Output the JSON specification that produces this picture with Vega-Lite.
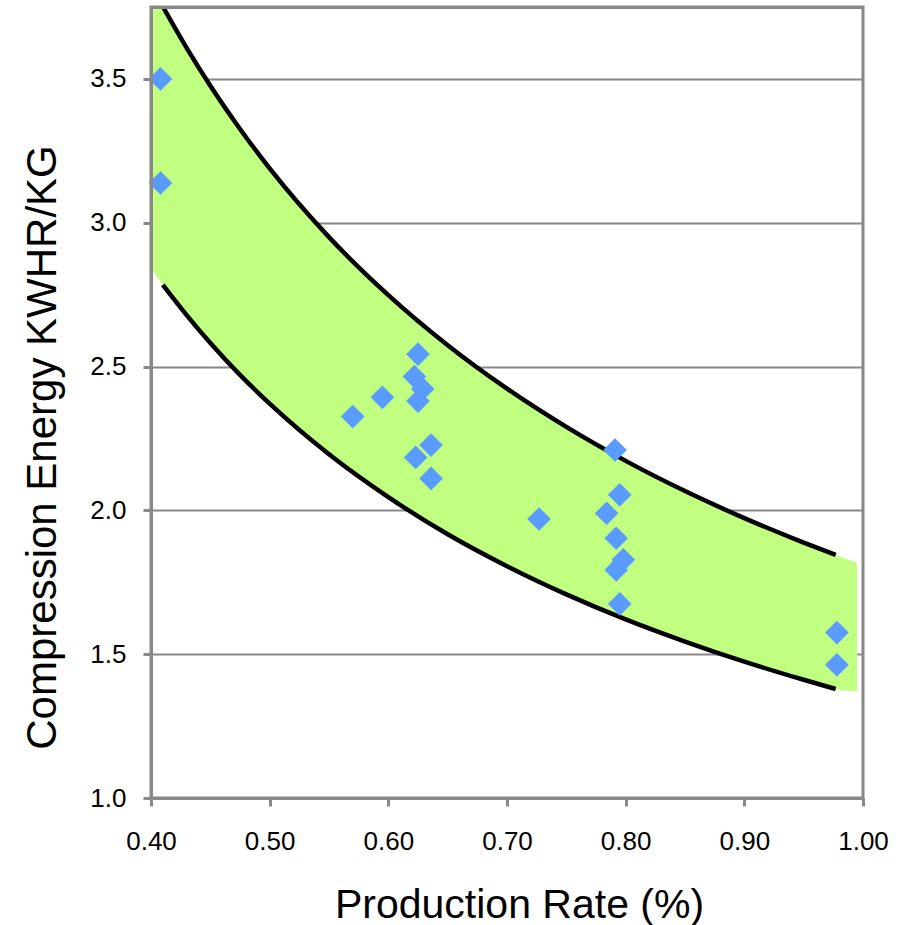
{
  "$schema": "https://vega.github.io/schema/vega-lite/v6.json",
  "autosize": "none",
  "width": 712,
  "height": 791,
  "padding": {"left": 151, "top": 7, "right": 45, "bottom": 127},
  "background": "white",
  "config": {
    "font": "Liberation Sans",
    "view": {"stroke": "#888888", "strokeWidth": 3},
    "axis": {
      "domainColor": "#888888",
      "domainWidth": 3,
      "tickColor": "#888888",
      "tickWidth": 3,
      "tickSize": 8,
      "gridColor": "#888888",
      "gridWidth": 2,
      "labelColor": "black",
      "labelFont": "Liberation Sans",
      "labelFontSize": 26,
      "titleColor": "black",
      "titleFont": "Liberation Sans",
      "titleFontWeight": "normal"
    }
  },
  "resolve": {"axis": {"x": "independent", "y": "independent"}},
  "datasets": {
    "band": [
      {"x": 0.40, "upper": 3.827, "lower": 2.840},
      {"x": 0.41, "upper": 3.751, "lower": 2.784},
      {"x": 0.43, "upper": 3.608, "lower": 2.679},
      {"x": 0.45, "upper": 3.476, "lower": 2.582},
      {"x": 0.475, "upper": 3.326, "lower": 2.471},
      {"x": 0.50, "upper": 3.189, "lower": 2.371},
      {"x": 0.55, "upper": 2.950, "lower": 2.195},
      {"x": 0.60, "upper": 2.748, "lower": 2.046},
      {"x": 0.65, "upper": 2.574, "lower": 1.917},
      {"x": 0.70, "upper": 2.423, "lower": 1.806},
      {"x": 0.75, "upper": 2.290, "lower": 1.708},
      {"x": 0.80, "upper": 2.172, "lower": 1.621},
      {"x": 0.85, "upper": 2.067, "lower": 1.544},
      {"x": 0.90, "upper": 1.973, "lower": 1.474},
      {"x": 0.95, "upper": 1.888, "lower": 1.411},
      {"x": 0.977, "upper": 1.845, "lower": 1.379},
      {"x": 0.995, "upper": 1.818, "lower": 1.370}
    ],
    "points": [
      {"rate": 0.408, "energy": 3.500},
      {"rate": 0.408, "energy": 3.138},
      {"rate": 0.625, "energy": 2.543},
      {"rate": 0.622, "energy": 2.465},
      {"rate": 0.629, "energy": 2.422},
      {"rate": 0.625, "energy": 2.380},
      {"rate": 0.595, "energy": 2.393},
      {"rate": 0.570, "energy": 2.326},
      {"rate": 0.636, "energy": 2.227},
      {"rate": 0.623, "energy": 2.184},
      {"rate": 0.636, "energy": 2.111},
      {"rate": 0.727, "energy": 1.970},
      {"rate": 0.791, "energy": 2.210},
      {"rate": 0.795, "energy": 2.054},
      {"rate": 0.784, "energy": 1.990},
      {"rate": 0.792, "energy": 1.903},
      {"rate": 0.798, "energy": 1.828},
      {"rate": 0.792, "energy": 1.793},
      {"rate": 0.795, "energy": 1.675},
      {"rate": 0.978, "energy": 1.575},
      {"rate": 0.978, "energy": 1.463}
    ]
  },
  "layer": [
    {
      "data": {"name": "band"},
      "mark": {"type": "area", "color": "#C0FF80", "clip": true, "interpolate": "monotone"},
      "encoding": {
        "x": {
          "field": "x", "type": "quantitative",
          "scale": {"domain": [0.4, 1.0], "nice": false, "zero": false},
          "axis": {
            "orient": "bottom",
            "zindex": 1,
            "values": [0.4, 0.5, 0.6, 0.7, 0.8, 0.9, 1.0],
            "format": ".2f",
            "grid": false,
            "labelFlush": false,
            "labelOverlap": false,
            "labelFontSize": 26,
            "labelPadding": 22,
            "title": "Production Rate (%)",
            "titleFontSize": 41,
            "titleX": 368,
            "titleY": 119,
            "titleBaseline": "alphabetic"
          }
        },
        "y": {
          "field": "upper", "type": "quantitative",
          "scale": {"domain": [1.0, 3.75], "nice": false, "zero": false},
          "axis": {
            "orient": "left",
            "zindex": 0,
            "values": [1.0, 1.5, 2.0, 2.5, 3.0, 3.5],
            "grid": true,
            "domain": false,
            "ticks": false,
            "labels": false,
            "title": null
          }
        },
        "y2": {"field": "lower"}
      }
    },
    {
      "data": {"name": "band"},
      "transform": [{"filter": "datum.x >= 0.41 && datum.x <= 0.977"}],
      "mark": {"type": "line", "color": "black", "strokeWidth": 4.5, "clip": true, "interpolate": "monotone"},
      "encoding": {
        "x": {
          "field": "x", "type": "quantitative",
          "axis": {
            "orient": "top",
            "zindex": 1,
            "grid": false,
            "ticks": false,
            "labels": false,
            "title": null
          }
        },
        "y": {
          "field": "upper", "type": "quantitative",
          "axis": {
            "orient": "left",
            "zindex": 1,
            "values": [1.0, 1.5, 2.0, 2.5, 3.0, 3.5],
            "format": ".1f",
            "grid": false,
            "labelFontSize": 26,
            "labelPadding": 17,
            "title": "Compression Energy KWHR/KG",
            "titleFontSize": 42,
            "titleAngle": -90,
            "titleX": -96,
            "titleY": 440,
            "titleBaseline": "alphabetic"
          }
        }
      }
    },
    {
      "data": {"name": "band"},
      "transform": [{"filter": "datum.x >= 0.41 && datum.x <= 0.977"}],
      "mark": {"type": "line", "color": "black", "strokeWidth": 4.5, "clip": true, "interpolate": "monotone"},
      "encoding": {
        "x": {"field": "x", "type": "quantitative", "axis": null},
        "y": {"field": "lower", "type": "quantitative", "axis": null}
      }
    },
    {
      "data": {"name": "points"},
      "mark": {"type": "point", "shape": "diamond", "filled": true, "color": "#5A9BFF", "opacity": 1, "size": 560},
      "encoding": {
        "x": {"field": "rate", "type": "quantitative", "axis": null},
        "y": {"field": "energy", "type": "quantitative", "axis": null}
      }
    }
  ]
}
